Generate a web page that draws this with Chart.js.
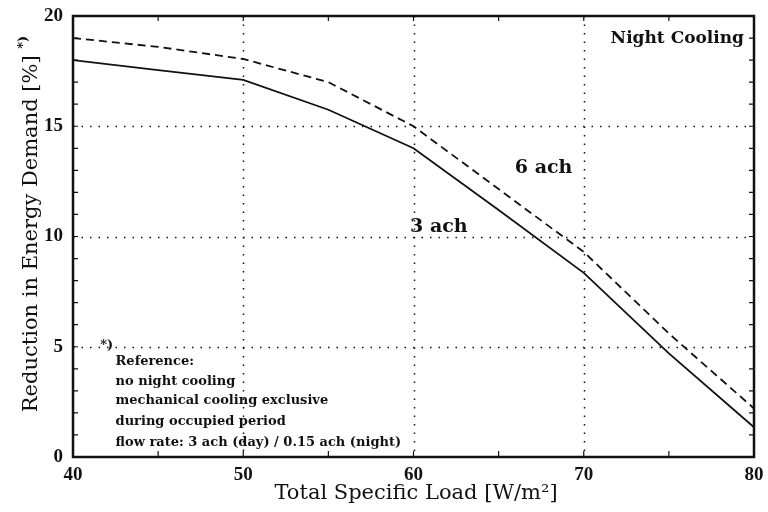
<!DOCTYPE html>
<html>
<head>
<meta charset="utf-8">
<script src="https://cdn.jsdelivr.net/npm/chart.js@4/dist/chart.umd.min.js"></script>
<style>
  html, body { margin: 0; padding: 0; background: #fff; }
  #wrap { width: 768px; height: 512px; }
</style>
</head>
<body>
<div id="wrap"><canvas id="nightChart" width="768" height="512"></canvas></div>
<script>
// data
const loads = [40, 45, 50, 55, 60, 65, 70, 75, 80];
const ach3 = [18.0, 17.55, 17.1, 15.75, 14.0, 11.2, 8.35, 4.7, 1.35];
const ach6 = [19.0, 18.6, 18.05, 17.0, 15.0, 12.15, 9.3, 5.6, 2.2];
const xTicks = [40, 50, 60, 70, 80];
const yTicks = [0, 5, 10, 15, 20];
const noteLines = [
    'Reference:',
    'no night cooling',
    'mechanical cooling exclusive',
    'during occupied period',
    'flow rate: 3 ach (day) / 0.15 ach (night)'
];

const INK = '#111';
const SERIF = "'DejaVu Serif', serif";
const TIMES = "'Liberation Serif', 'Times New Roman', serif";

function pts(ys) {
    return loads.map(function(x, i) { return { x: x, y: ys[i] }; });
}

// frame, dotted grid, inward ticks, titles and notes
const decor = {
    id: 'decor',
    beforeDatasetsDraw: function(chart) {
        var ctx = chart.ctx, a = chart.chartArea;
        var xs = chart.scales.x, ys = chart.scales.y;
        ctx.save();
        ctx.strokeStyle = INK;
        ctx.lineWidth = 1.5;
        ctx.setLineDash([1.5, 7]);
        xTicks.slice(1, -1).forEach(function(v) {
            var px = Math.round(xs.getPixelForValue(v)) + 0.5;
            ctx.beginPath(); ctx.moveTo(px, a.top); ctx.lineTo(px, a.bottom); ctx.stroke();
        });
        yTicks.slice(1, -1).forEach(function(v) {
            var py = Math.round(ys.getPixelForValue(v)) + 0.5;
            ctx.beginPath(); ctx.moveTo(a.left, py); ctx.lineTo(a.right, py); ctx.stroke();
        });
        ctx.setLineDash([]);
        ctx.lineWidth = 1.2;
        // minor ticks, y every 1, x every 5
        for (var v = 1; v < 20; v++) {
            var py = ys.getPixelForValue(v);
            ctx.beginPath();
            ctx.moveTo(a.left, py); ctx.lineTo(a.left + 5, py);
            ctx.moveTo(a.right, py); ctx.lineTo(a.right - 5, py);
            ctx.stroke();
        }
        for (var u = 45; u < 80; u += 5) {
            var px = xs.getPixelForValue(u);
            ctx.beginPath();
            ctx.moveTo(px, a.bottom); ctx.lineTo(px, a.bottom - 6);
            ctx.moveTo(px, a.top); ctx.lineTo(px, a.top + 5);
            ctx.stroke();
        }
        ctx.restore();
    },
    afterDraw: function(chart) {
        var ctx = chart.ctx, a = chart.chartArea;
        var xs = chart.scales.x, ys = chart.scales.y;
        ctx.save();
        ctx.strokeStyle = INK;
        ctx.lineWidth = 2.5;
        ctx.strokeRect(a.left, a.top, a.right - a.left, a.bottom - a.top);

        ctx.fillStyle = INK;
        ctx.textBaseline = 'alphabetic';

        // x title
        ctx.font = '21px ' + SERIF;
        ctx.textAlign = 'center';
        ctx.fillText('Total Specific Load [W/m\u00b2]', 416, 499);

        // y title with superscript
        ctx.save();
        ctx.translate(37, 224);
        ctx.rotate(-Math.PI / 2);
        var main = 'Reduction in Energy Demand [%] ';
        ctx.font = '21px ' + SERIF;
        var w1 = ctx.measureText(main).width;
        ctx.font = 'bold 13px ' + SERIF;
        var w2 = ctx.measureText('*)').width;
        var x0 = -(w1 + w2) / 2;
        ctx.textAlign = 'left';
        ctx.font = '21px ' + SERIF;
        ctx.fillText(main, x0, 0);
        ctx.font = 'bold 13px ' + SERIF;
        ctx.fillText('*)', x0 + w1, -10);
        ctx.restore();

        // panel title
        ctx.font = 'bold 17px ' + SERIF;
        ctx.textAlign = 'right';
        ctx.fillText('Night Cooling', a.right - 10, 43);

        // curve labels
        ctx.textAlign = 'left';
        ctx.font = 'bold 19px ' + SERIF;
        ctx.fillText('6 ach', xs.getPixelForValue(65.95), ys.getPixelForValue(12.88));
        ctx.fillText('3 ach', xs.getPixelForValue(59.8), ys.getPixelForValue(10.2));

        // reference note
        ctx.font = 'bold 13px ' + SERIF;
        ctx.fillText('*)', xs.getPixelForValue(41.6), ys.getPixelForValue(4.9));
        var nx = xs.getPixelForValue(42.5);
        var base = [365, 385, 404, 425, 446];
        noteLines.forEach(function(t, i) { ctx.fillText(t, nx, base[i]); });
        ctx.restore();
    }
};

new Chart(document.getElementById('nightChart').getContext('2d'), {
    type: 'line',
    data: {
        datasets: [
            { label: '3 ach', data: pts(ach3), borderColor: INK, borderWidth: 1.8, pointRadius: 0, tension: 0, fill: false },
            { label: '6 ach', data: pts(ach6), borderColor: INK, borderWidth: 1.8, borderDash: [8, 5], pointRadius: 0, tension: 0, fill: false }
        ]
    },
    options: {
        responsive: false,
        animation: false,
        layout: { padding: { top: 16, right: 14, left: 0, bottom: 0 } },
        plugins: { legend: { display: false }, tooltip: { enabled: false } },
        scales: {
            x: {
                type: 'linear', min: 40, max: 80,
                grid: { display: false, drawTicks: false }, border: { display: false },
                afterBuildTicks: function(s) { s.ticks = xTicks.map(function(v) { return { value: v }; }); },
                afterFit: function(s) { s.height = 55; s.paddingLeft = 0; s.paddingRight = 0; },
                ticks: { color: INK, padding: 7, maxRotation: 0, font: { family: TIMES, size: 19, weight: 'bold' } }
            },
            y: {
                min: 0, max: 20,
                grid: { display: false, drawTicks: false }, border: { display: false },
                afterBuildTicks: function(s) { s.ticks = yTicks.map(function(v) { return { value: v }; }); },
                afterFit: function(s) { s.width = 73; s.paddingTop = 0; s.paddingBottom = 0; },
                ticks: { color: INK, padding: 10, font: { family: TIMES, size: 19, weight: 'bold' } }
            }
        }
    },
    plugins: [decor]
});
</script>
</body>
</html>
